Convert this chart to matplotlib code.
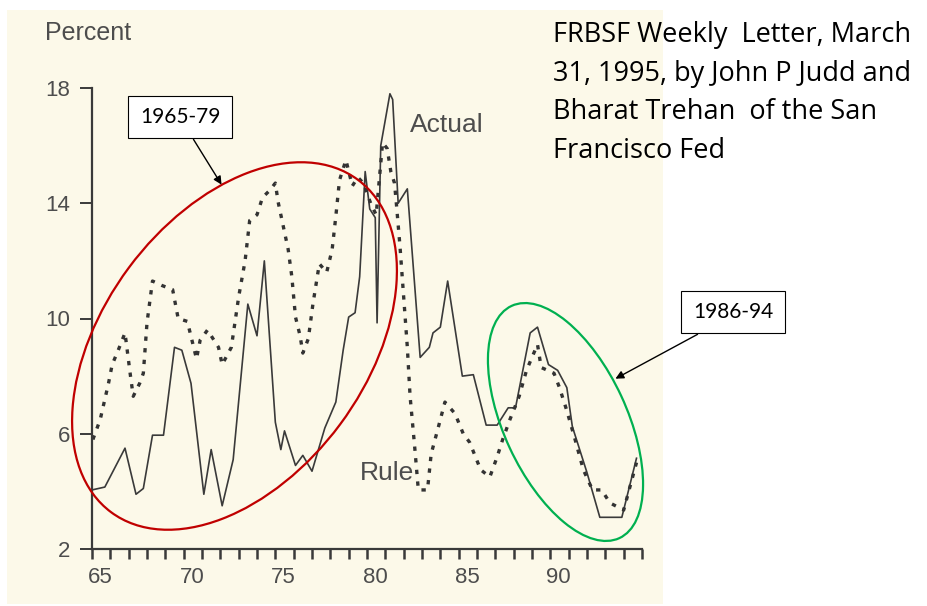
import matplotlib
matplotlib.use('Agg')
import matplotlib.pyplot as plt
from matplotlib.patches import Ellipse, Rectangle

# Federal funds rate: actual vs. policy rule, 1965-94 (percent)
actual_year = [65.0, 65.7, 66.8, 67.4, 67.8, 68.3, 68.9, 69.5, 69.9, 70.4,
               71.1, 71.5, 72.1, 72.7, 73.5, 74.0, 74.4, 75.0, 75.3, 75.5,
               76.1, 76.5, 77.0, 77.7, 78.3, 78.7, 79.0, 79.35, 79.6, 79.9,
               80.15, 80.45, 80.55, 80.75, 81.25, 81.4, 81.7, 82.2, 82.9, 83.4,
               83.6, 84.0, 84.4, 85.2, 85.8, 86.5, 87.1, 87.7, 88.1, 88.9,
               89.3, 89.9, 90.4, 90.9, 91.2, 92.0, 92.7, 93.9, 94.7]
actual_rate = [4.05, 4.15, 5.5, 3.9, 4.1, 5.95, 5.95, 9.0, 8.9, 7.75,
               3.9, 5.45, 3.5, 5.1, 10.5, 9.4, 12.0, 6.4, 5.45, 6.1,
               4.9, 5.25, 4.7, 6.2, 7.1, 8.9, 10.05, 10.2, 11.45, 15.1,
               13.8, 13.5, 9.85, 16.0, 17.8, 17.6, 14.0, 14.5, 8.65, 9.0,
               9.5, 9.7, 11.3, 8.0, 8.05, 6.3, 6.3, 6.9, 6.9, 9.5,
               9.7, 8.4, 8.2, 7.6, 6.25, 4.65, 3.1, 3.1, 5.15]

rule_year = [65.05, 65.45, 65.9, 66.1, 66.4, 66.8, 67.1, 67.25, 67.6, 67.8,
             68.0, 68.3, 68.8, 69.4, 69.7, 70.2, 70.7, 70.9, 71.3, 71.9,
             72.1, 72.6, 73.0, 73.35, 73.6, 74.0, 74.3, 74.7, 75.0, 75.15,
             75.4, 75.7, 75.9, 76.1, 76.35, 76.5, 76.8, 77.05, 77.4, 77.8,
             78.1, 78.3, 78.5, 78.85, 79.2, 79.5, 79.8, 80.2, 80.5, 80.85,
             81.1, 81.3, 81.5, 81.6, 81.8, 82.0, 82.2, 82.35, 82.6, 82.8,
             83.3, 83.5, 83.9, 84.25, 84.8, 85.25, 85.6, 86.2, 86.7, 87.1,
             87.4, 87.8, 88.3, 88.7, 89.3, 89.5, 90.2, 90.5, 90.9, 91.35,
             91.8, 92.3, 92.8, 93.25, 94.0, 94.7]
rule_rate = [5.8, 6.5, 7.75, 8.4, 8.85, 9.5, 8.0, 7.3, 7.75, 8.1,
             9.85, 11.3, 11.15, 11.0, 10.0, 9.9, 8.6, 9.25, 9.6, 9.0,
             8.4, 9.0, 10.75, 12.0, 13.4, 13.6, 14.2, 14.45, 14.7, 14.05,
             13.3, 12.4, 11.45, 10.05, 9.4, 8.8, 9.3, 10.5, 11.9, 11.6,
             12.4, 13.55, 14.8, 15.5, 14.6, 14.9, 14.7, 14.0, 13.6, 16.1,
             15.9, 15.1, 14.7, 14.0, 12.5, 10.75, 9.0, 7.3, 5.55, 4.05,
             4.05, 5.3, 6.25, 7.1, 6.7, 6.0, 5.7, 4.75, 4.5, 5.2,
             5.8, 6.5, 7.3, 8.2, 9.1, 8.3, 8.1, 7.6, 6.8, 5.8,
             4.75, 4.05, 4.05, 3.6, 3.35, 5.0]

y_ticks = [2, 6, 10, 14, 18]
x_labels = ['65', '70', '75', '80', '85', '90']

source_lines = ['FRBSF Weekly  Letter, March',
                '31, 1995, by John P Judd and',
                'Bharat Trehan  of the San',
                'Francisco Fed']

narrow = ['Liberation Sans Narrow', 'Liberation Sans', 'DejaVu Sans']
slide_font = ['Open Sans', 'DejaVu Sans']
gray = '#4d4d4d'

fig = plt.figure(figsize=(9.28, 6.06), dpi=100, facecolor='white')

# background layer in pixel coordinates (scanned page)
bg = fig.add_axes([0, 0, 1, 1], zorder=0)
bg.set_xlim(0, 928)
bg.set_ylim(606, 0)
bg.axis('off')
bg.add_patch(Rectangle((7, 10), 656, 594, facecolor='#fcf9e9', edgecolor='none'))

# the chart
ax = fig.add_axes([92 / 928, 1 - 549 / 606, 550 / 928, 461 / 606], zorder=1)
ax.set_facecolor('none')
ax.plot(actual_year, actual_rate, color='#3a3a3a', lw=1.2)
ax.plot(rule_year, rule_rate, color='#333333', lw=2.4, linestyle=(0, (1.3, 2.2)))
ax.set_xlim(65, 95)
ax.set_ylim(2, 18)
for s in ['top', 'right']:
    ax.spines[s].set_visible(False)
for s in ['left', 'bottom']:
    ax.spines[s].set_color('#3a3a3a')
    ax.spines[s].set_linewidth(1.6)

ax.set_yticks(y_ticks)
ax.set_yticklabels([str(v) for v in y_ticks], family=narrow, fontsize=16, color=gray)
ax.tick_params(axis='y', length=8.5, width=1.4, color='#3a3a3a', pad=7)
ax.set_xticks(range(65, 96))
ax.set_xticklabels([])
ax.tick_params(axis='x', which='major', length=7, width=1.8, color='#3a3a3a')
ax.set_xticks([int(l) + 0.45 for l in x_labels], minor=True)
ax.set_xticklabels(x_labels, minor=True, family=narrow, fontsize=16, color=gray)
ax.tick_params(axis='x', which='minor', length=0, pad=13)

ax.text(82.35, 16.7, 'Actual', family=narrow, fontsize=19, color=gray, va='center')
ax.text(79.6, 4.64, 'Rule', family=narrow, fontsize=19, color=gray, va='center')

# annotations layer in pixel coordinates
ov = fig.add_axes([0, 0, 1, 1], zorder=2)
ov.set_xlim(0, 928)
ov.set_ylim(606, 0)
ov.axis('off')
ov.patch.set_alpha(0)

ov.text(45, 33, 'Percent', family=narrow, fontsize=18, color=gray, va='center')

ov.add_patch(Ellipse((234.5, 346), 414, 263, angle=-53.4, fill=False,
                     edgecolor='#c00000', lw=1.6))
ov.add_patch(Ellipse((565.5, 422), 256, 123, angle=65.1, fill=False,
                     edgecolor='#00b050', lw=1.6))

box = dict(boxstyle='square,pad=0.55', facecolor='white', edgecolor='black', lw=0.8)
ov.text(180, 117, '1965-79', family=['Lato', 'DejaVu Sans'], fontsize=15,
        ha='center', va='center', bbox=box)
ov.text(733, 312, '1986-94', family=['Lato', 'DejaVu Sans'], fontsize=15,
        ha='center', va='center', bbox=box)
ov.annotate('', xy=(223, 187), xytext=(192, 137),
            arrowprops=dict(arrowstyle='-|>', color='black', lw=1, mutation_scale=12))
ov.annotate('', xy=(613, 380), xytext=(700, 333),
            arrowprops=dict(arrowstyle='-|>', color='black', lw=1, mutation_scale=12))

for i, line in enumerate(source_lines):
    ov.text(553, 35 + i * 38.7, line, family=slide_font, fontsize=19.5,
            color='black', va='center', ha='left')

fig.savefig('out.png', dpi=100, facecolor='white')
